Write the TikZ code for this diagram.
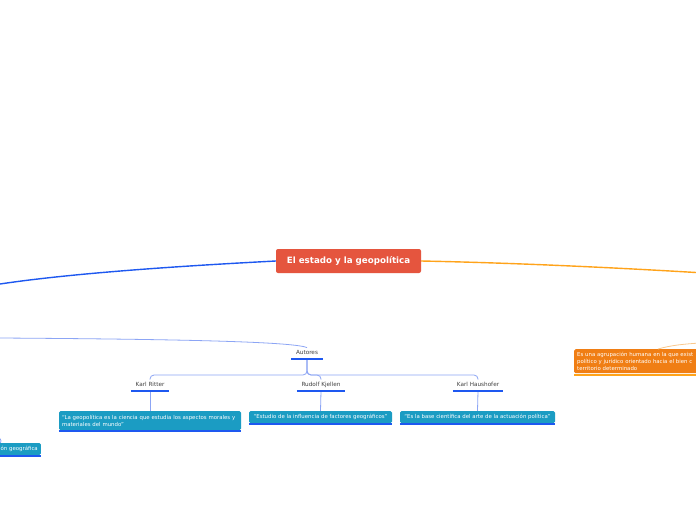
\documentclass[tikz,border=0pt]{standalone}
\usepackage{fontspec}
\setmainfont{DejaVu Sans}

\definecolor{rojotema}{RGB}{229,85,62}
\definecolor{azul}{RGB}{30,88,240}
\definecolor{azulclaro}{RGB}{140,165,245}
\definecolor{turquesa}{RGB}{27,156,195}
\definecolor{naranja}{RGB}{240,126,20}
\definecolor{ambar}{RGB}{255,163,26}
\definecolor{naranjaclaro}{RGB}{250,200,140}

\begin{document}
\begin{tikzpicture}[x=1pt, y=-1pt,
        tema/.style={rectangle, rounded corners=2pt, fill=rojotema, text=white, font=\fontsize{8.7}{10}\selectfont\bfseries, minimum width=145pt, minimum height=24pt},
        autor/.style={font=\fontsize{5.7}{6.5}\selectfont, text=black!75, inner xsep=1pt, inner ysep=3pt, text height=4pt, text depth=1pt},
        cita/.style={rectangle, rounded corners=1.5pt, fill=turquesa, text=white, font=\fontsize{5.4}{7}\selectfont, align=left, inner xsep=3pt, inner ysep=2pt, minimum height=12pt},
        barra/.style={azul, line width=2.5pt},
        rama/.style={azulclaro, line width=0.8pt},
        principal/.style={line width=1.4pt}
    ]

    \path[fill=white] (0,0) rectangle (696,520);
    \useasboundingbox (0,0) rectangle (696,520);
    \clip (0,0) rectangle (696,520);

    % Tema central
    \node[tema] (raiz) at (348.5,261) {El estado y la geopolítica};

    % Autores
    \node[autor, minimum width=31pt, anchor=south] (autores) at (307,359) {Autores};
    \node[autor, minimum width=38pt, anchor=south] (ritter) at (150,391) {Karl Ritter};
    \node[autor, minimum width=48pt, anchor=south] (kjellen) at (321,391) {Rudolf Kjellen};
    \node[autor, minimum width=50pt, anchor=south] (haushofer) at (478,391) {Karl Haushofer};

    % Definiciones
    \node[cita, text width=176pt, minimum height=19pt] (citaritter) at (150,420.5) {“La geopolítica es la ciencia que estudia los aspectos morales y\\materiales del mundo”};
    \node[cita, minimum width=143pt, align=center] (citakjellen) at (320.5,417) {“Estudio de la influencia de factores geográficos”};
    \node[cita, minimum width=155pt, align=center] (citahaushofer) at (477.5,417) {“Es la base científica del arte de la actuación política”};
    \node[cita, anchor=east] (citaizq) at (41,449) {ón geográfica};
    \node[cita, fill=naranja, anchor=north west, text width=150pt, minimum height=24pt] (estado) at (574,349) {Es una agrupación humana en la que exist\\político y jurídico orientado hacia el bien c\\territorio determinado};

    % Extremos fuera del cuadro
    \coordinate (izq1) at (0,284);
    \coordinate (izq2) at (0,338);
    \coordinate (izq3) at (-4,436);
    \coordinate (der1) at (696,272.5);
    \coordinate (der2) at (700,343);

    % Ramas principales
    \draw[principal, azul] (raiz.west) .. controls (200,265) and (80,272) .. (izq1);
    \draw[principal, ambar] (raiz.east) .. controls (520,263) and (620,268) .. (der1);

    % Ramas de autores
    \draw[rama] (izq2) .. controls (150,339) and (292,341) .. (autores.north);
    \draw[rama, rounded corners=4pt] (autores.south) -- ++(0,16) -| (ritter.north);
    \draw[rama, rounded corners=4pt] (autores.south) -- ++(0,16) -| (kjellen.north);
    \draw[rama, rounded corners=4pt] (autores.south) -- ++(0,16) -| (haushofer.north);
    \draw[rama] (ritter.south) -- (citaritter.north);
    \draw[rama] (kjellen.south) -- (citakjellen.north);
    \draw[rama] (haushofer.south) -- (citahaushofer.north);
    \draw[rama] (izq3) .. controls (0,438) and (2,440) .. ([xshift=3pt]citaizq.north west);
    \draw[naranjaclaro, line width=0.8pt] ([xshift=84pt]estado.north west) .. controls (672,345) and (685,344) .. (der2);

    % Subrayados
    \draw[barra] (autores.south west) -- (autores.south east);
    \draw[barra] (ritter.south west) -- (ritter.south east);
    \draw[barra] (kjellen.south west) -- (kjellen.south east);
    \draw[barra] (haushofer.south west) -- (haushofer.south east);
    \draw[azul, line width=2pt] ([yshift=-1.2pt]citaritter.south west) -- ([yshift=-1.2pt]citaritter.south east);
    \draw[azul, line width=2pt] ([yshift=-1.2pt]citakjellen.south west) -- ([yshift=-1.2pt]citakjellen.south east);
    \draw[azul, line width=2pt] ([yshift=-1.2pt]citahaushofer.south west) -- ([yshift=-1.2pt]citahaushofer.south east);
    \draw[azul, line width=2pt] ([yshift=-1.2pt]citaizq.south west) -- ([yshift=-1.2pt]citaizq.south east);
    \draw[ambar, line width=2pt] ([yshift=-1.2pt]estado.south west) -- ([yshift=-1.2pt]estado.south east);

\end{tikzpicture}
\end{document}
